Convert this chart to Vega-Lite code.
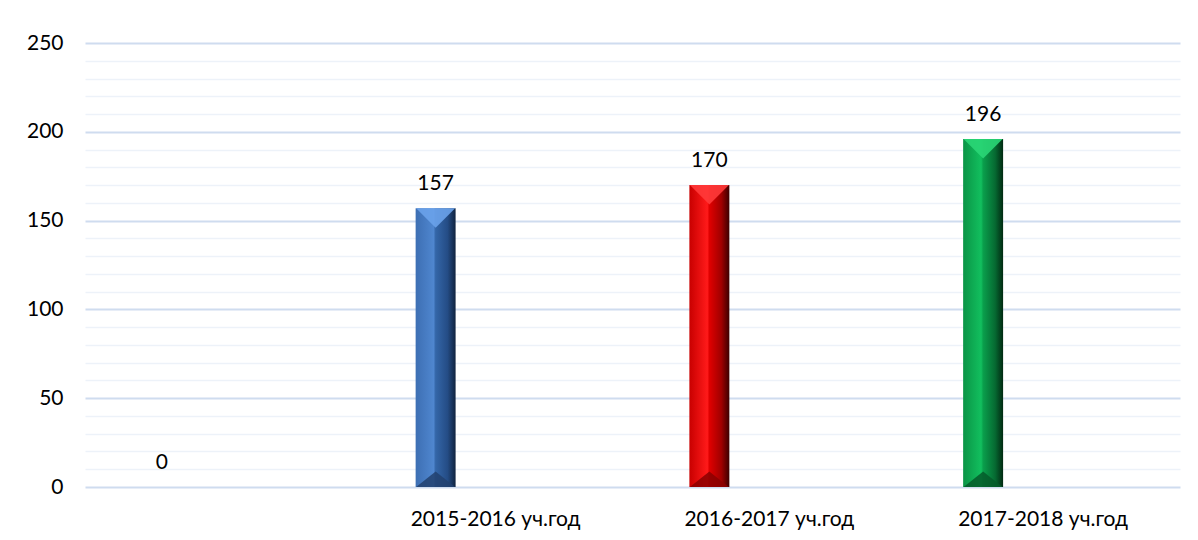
{
  "$schema": "https://vega.github.io/schema/vega-lite/v6.json",
  "width": 1095,
  "height": 444,
  "autosize": "none",
  "padding": {"left": 85, "top": 43, "right": 18, "bottom": 53},
  "background": "white",
  "config": {
    "view": {"stroke": null},
    "font": "Lato",
    "axis": {"labelFont": "Lato", "labelColor": "#000000", "labelFontSize": 21}
  },
  "data": {
    "values": [
      {"year": "", "series": "A", "count": 0},
      {"year": "2015-2016 уч.год", "series": "A", "count": 157},
      {"year": "2016-2017 уч.год", "series": "A", "count": 170},
      {"year": "2017-2018 уч.год", "series": "A", "count": 196}
    ]
  },
  "resolve": {"scale": {"color": "independent"}},
  "encoding": {
    "x": {
      "field": "year",
      "type": "nominal",
      "sort": null,
      "scale": {"domain": ["", "2015-2016 уч.год", "2016-2017 уч.год", "2017-2018 уч.год"], "paddingInner": 0, "paddingOuter": 0},
      "axis": {"title": null, "labelAngle": 0, "domain": false, "ticks": false, "labelPadding": 21, "grid": false}
    },
    "xOffset": {
      "field": "series",
      "type": "nominal",
      "scale": {"domain": ["A", "B"], "paddingInner": 0.667, "paddingOuter": 0.474}
    },
    "y": {
      "field": "count",
      "type": "quantitative",
      "scale": {"domain": [0, 250], "nice": false},
      "axis": {
        "title": null,
        "values": [0, 10, 20, 30, 40, 50, 60, 70, 80, 90, 100, 110, 120, 130, 140, 150, 160, 170, 180, 190, 200, 210, 220, 230, 240, 250],
        "labelExpr": "datum.value % 50 === 0 ? datum.label : ''",
        "domain": false,
        "ticks": false,
        "labelPadding": 22,
        "grid": true,
        "gridColor": {"condition": {"test": "datum.value % 50 === 0", "value": "#cfdcef"}, "value": "#edf2f9"},
        "gridWidth": {"condition": {"test": "datum.value % 50 === 0", "value": 2}, "value": 1.5}
      }
    }
  },
  "layer": [
    {
      "transform": [{"filter": "datum.year === '2015-2016 уч.год'"}],
      "mark": {
        "type": "bar",
        "color": {
          "gradient": "linear", "x1": 0, "y1": 0, "x2": 1, "y2": 0,
          "stops": [
            {"offset": 0, "color": "#3d6fb3"},
            {"offset": 0.45, "color": "#4f86cf"},
            {"offset": 0.5, "color": "#3466a8"},
            {"offset": 0.8, "color": "#244c85"},
            {"offset": 1, "color": "#10233f"}
          ]
        }
      }
    },
    {
      "transform": [{"filter": "datum.year === '2016-2017 уч.год'"}],
      "mark": {
        "type": "bar",
        "color": {
          "gradient": "linear", "x1": 0, "y1": 0, "x2": 1, "y2": 0,
          "stops": [
            {"offset": 0, "color": "#c80000"},
            {"offset": 0.45, "color": "#ff1a1a"},
            {"offset": 0.5, "color": "#e00000"},
            {"offset": 0.8, "color": "#a00000"},
            {"offset": 1, "color": "#3c0000"}
          ]
        }
      }
    },
    {
      "transform": [{"filter": "datum.year === '2017-2018 уч.год'"}],
      "mark": {
        "type": "bar",
        "color": {
          "gradient": "linear", "x1": 0, "y1": 0, "x2": 1, "y2": 0,
          "stops": [
            {"offset": 0, "color": "#0a9446"},
            {"offset": 0.45, "color": "#12bf5e"},
            {"offset": 0.5, "color": "#0a9f4c"},
            {"offset": 0.8, "color": "#066a32"},
            {"offset": 1, "color": "#012a12"}
          ]
        }
      }
    },
    {
      "transform": [{"filter": "datum.count > 0"}],
      "mark": {"type": "point", "filled": true, "opacity": 0.9, "shape": "M-1,0L1,0L0,1Z", "size": 1520},
      "encoding": {
        "color": {
          "field": "year", "type": "nominal", "legend": null,
          "scale": {"domain": ["2015-2016 уч.год", "2016-2017 уч.год", "2017-2018 уч.год"], "range": ["#6aa2ea", "#ff3a3a", "#2ad676"]}
        }
      }
    },
    {
      "transform": [{"filter": "datum.count > 0"}],
      "mark": {"type": "point", "filled": true, "opacity": 0.85, "shape": "M-1,0L1,0L0,-0.8Z", "size": 1520},
      "encoding": {
        "y": {"datum": 0, "type": "quantitative"},
        "color": {
          "field": "year", "type": "nominal", "legend": null,
          "scale": {"domain": ["2015-2016 уч.год", "2016-2017 уч.год", "2017-2018 уч.год"], "range": ["#22416e", "#8a0000", "#055a2a"]}
        }
      }
    },
    {
      "mark": {"type": "text", "baseline": "bottom", "dy": -14, "fontSize": 21, "color": "#000000", "font": "Lato"},
      "encoding": {"text": {"field": "count", "type": "quantitative"}}
    }
  ]
}
